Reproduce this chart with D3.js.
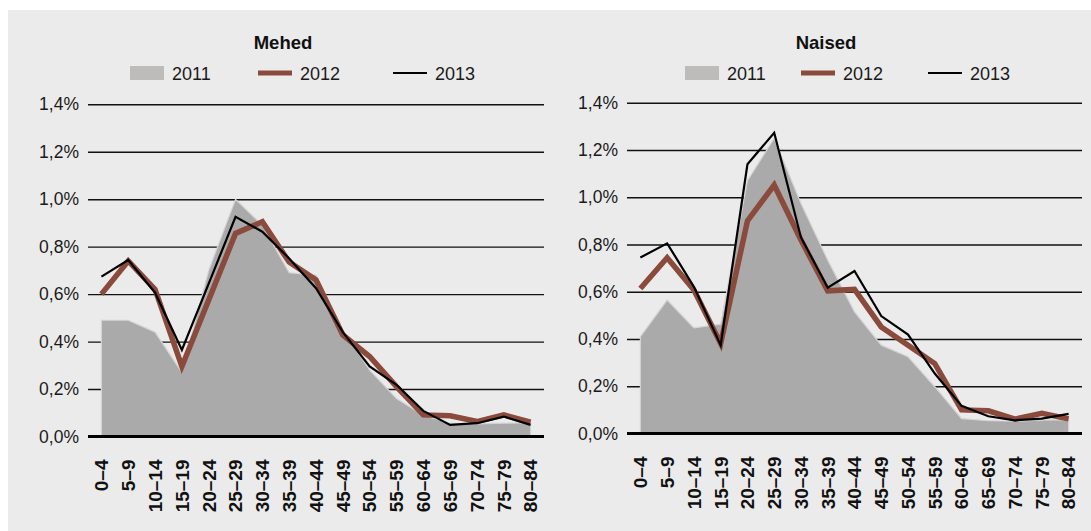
<!DOCTYPE html>
<html>
<head>
<meta charset="utf-8">
<script src="https://cdn.jsdelivr.net/npm/d3@7"></script>
<style>
body { margin: 0; background: #fff; }
svg { display: block; font-family: "Liberation Sans", Arial, sans-serif; }
</style>
</head>
<body>
<script>
const width = 1091;
const height = 531;

// age groups and y ticks
const ageGroups = ["0–4","5–9","10–14","15–19","20–24","25–29","30–34","35–39","40–44",
                   "45–49","50–54","55–59","60–64","65–69","70–74","75–79","80–84"];
const yTicks = [0, 0.2, 0.4, 0.6, 0.8, 1.0, 1.2, 1.4];
const years = ["2011", "2012", "2013"];

// Mehed (men), % share
const mehed2011 = [0.49,0.49,0.44,0.27,0.70,1.00,0.89,0.69,0.68,0.45,0.28,0.16,0.09,0.055,0.053,0.056,0.058];
const mehed2012 = [0.60,0.74,0.62,0.295,0.575,0.856,0.905,0.735,0.66,0.428,0.337,0.21,0.091,0.087,0.063,0.091,0.06];
const mehed2013 = [0.674,0.744,0.606,0.365,0.644,0.926,0.863,0.75,0.625,0.44,0.295,0.218,0.108,0.049,0.056,0.084,0.049];

// Naised (women), % share
const naised2011 = [0.41,0.565,0.447,0.463,1.07,1.25,0.974,0.734,0.515,0.374,0.325,0.198,0.063,0.054,0.052,0.056,0.059];
const naised2012 = [0.614,0.744,0.607,0.381,0.90,1.052,0.819,0.604,0.61,0.451,0.374,0.296,0.10,0.096,0.061,0.085,0.062];
const naised2013 = [0.745,0.805,0.621,0.374,1.14,1.273,0.83,0.617,0.688,0.497,0.419,0.254,0.117,0.073,0.056,0.063,0.083];

const panels = [
  { title: "Mehed", series: [mehed2011, mehed2012, mehed2013],
    x0: 88, x1: 544, yTop: 104.3, yBase: 436.5, titleX: 283, legendX: [130, 258, 393] },
  { title: "Naised", series: [naised2011, naised2012, naised2013],
    x0: 627, x1: 1082, yTop: 102.8, yBase: 433.5, titleX: 826, legendX: [685, 801, 928] }
];

const svg = d3.select("body").append("svg")
  .attr("width", width).attr("height", height);

svg.append("rect").attr("x", 8).attr("y", 10)
  .attr("width", width - 8).attr("height", height - 10)
  .attr("fill", "#ebebeb");

const fmt = d => d.toFixed(1).replace(".", ",") + "%";

panels.forEach(p => {
  const g = svg.append("g");
  const x = d3.scaleBand().domain(ageGroups).range([p.x0, p.x1]);
  const cx = d => x(d) + x.bandwidth() / 2;
  const y = d3.scaleLinear().domain([0, 1.4]).range([p.yBase, p.yTop]);

  // gridlines + y labels
  const yAxis = g.append("g").attr("transform", `translate(${p.x0},0)`)
    .call(d3.axisLeft(y).tickValues(yTicks).tickFormat(fmt)
      .tickSize(-(p.x1 - p.x0)).tickPadding(9));
  yAxis.select(".domain").remove();
  yAxis.selectAll(".tick line").attr("stroke", "#111").attr("stroke-width", 1.4);
  yAxis.selectAll(".tick text").attr("fill", "#1a1a1a")
    .style("font-size", "17.5px");

  // 2011 area
  const area = d3.area()
    .x((d, i) => cx(ageGroups[i])).y0(y(0)).y1(d => y(d));
  g.append("path").datum(p.series[0]).attr("d", area)
    .attr("fill", "#aaaaaa").attr("stroke", "#d4d4d4").attr("stroke-width", 1.2);

  // baseline
  g.append("line").attr("x1", p.x0).attr("x2", p.x1)
    .attr("y1", y(0)).attr("y2", y(0))
    .attr("stroke", "#000").attr("stroke-width", 3);

  const line = d3.line().x((d, i) => cx(ageGroups[i])).y(d => y(d));
  g.append("path").datum(p.series[1]).attr("d", line)
    .attr("fill", "none").attr("stroke", "#8a4a3c").attr("stroke-width", 5.5)
    .attr("stroke-linejoin", "miter");
  g.append("path").datum(p.series[2]).attr("d", line)
    .attr("fill", "none").attr("stroke", "#000").attr("stroke-width", 2.2);

  // x labels
  g.selectAll(".xl").data(ageGroups).enter().append("text")
    .attr("class", "xl")
    .attr("transform", d => `translate(${cx(d)},${p.yBase + 23}) rotate(-90)`)
    .attr("text-anchor", "end").attr("dy", "0.36em")
    .attr("font-weight", "bold").attr("font-size", 19).attr("fill", "#111")
    .text(d => d);

  // title
  g.append("text").attr("x", p.titleX).attr("y", 49)
    .attr("text-anchor", "middle").attr("font-weight", "bold")
    .attr("font-size", 18.5).attr("fill", "#111").text(p.title);

  // legend
  const lg = g.append("g");
  years.forEach((yr, i) => {
    const lx = p.legendX[i];
    if (i === 0) {
      lg.append("rect").attr("x", lx).attr("y", 66).attr("width", 34).attr("height", 14)
        .attr("fill", "#bdbcba");
    } else {
      lg.append("line").attr("x1", lx).attr("x2", lx + 34).attr("y1", 73).attr("y2", 73)
        .attr("stroke", i === 1 ? "#8a4a3c" : "#000")
        .attr("stroke-width", i === 1 ? 5 : 2.2);
    }
    lg.append("text").attr("x", lx + 42).attr("y", 80)
      .attr("font-size", 18).attr("fill", "#1a1a1a").text(yr);
  });
});
</script>
</body>
</html>
